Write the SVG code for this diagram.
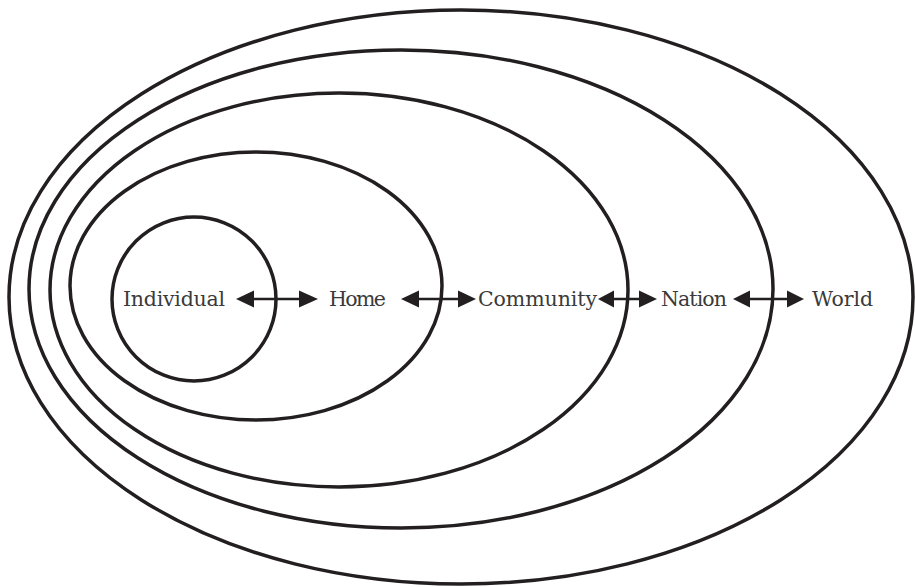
<svg xmlns="http://www.w3.org/2000/svg" width="915" height="587" viewBox="0 0 915 587">
<style>
.ring{fill:none;stroke:#231f20;stroke-width:3.5}
.lbl{font-family:"DejaVu Serif","Liberation Serif",serif;font-size:20.5px;fill:#3a3a3a}
.conn{stroke:#231f20;stroke-width:2.6;fill:none}
.head{fill:#231f20}
</style>
<g id="world"><ellipse class="ring" cx="461" cy="297" rx="452" ry="287"/><text class="lbl" x="812" y="306" textLength="61">World</text></g>
<g id="nation"><ellipse class="ring" cx="401" cy="289" rx="372" ry="239"/><text class="lbl" x="661" y="306" textLength="66">Nation</text></g>
<g id="community"><ellipse class="ring" cx="339" cy="290" rx="289" ry="197"/><text class="lbl" x="478" y="306" textLength="119">Community</text></g>
<g id="home"><ellipse class="ring" cx="256" cy="286" rx="186" ry="134"/><text class="lbl" x="329" y="306" textLength="57">Home</text></g>
<g id="individual"><circle class="ring" cx="194" cy="299" r="82"/><text class="lbl" x="123" y="306" textLength="102">Individual</text></g>
<g id="connectors">
<line class="conn" x1="250" y1="299" x2="304" y2="299"/>
<polygon class="head" points="236,299 254,290.5 254,307.5"/>
<polygon class="head" points="318,299 299,290.5 299,307.5"/>
<line class="conn" x1="414" y1="299" x2="462" y2="299"/>
<polygon class="head" points="401,299 419,290.5 419,307.5"/>
<polygon class="head" points="476,299 458,290.5 458,307.5"/>
<line class="conn" x1="610" y1="299" x2="643" y2="299"/>
<polygon class="head" points="598,299 614,290.5 614,307.5"/>
<polygon class="head" points="657,299 639,290.5 639,307.5"/>
<line class="conn" x1="746" y1="299" x2="791" y2="299"/>
<polygon class="head" points="733,299 750,290.5 750,307.5"/>
<polygon class="head" points="804,299 787,290.5 787,307.5"/>
</g>
</svg>
